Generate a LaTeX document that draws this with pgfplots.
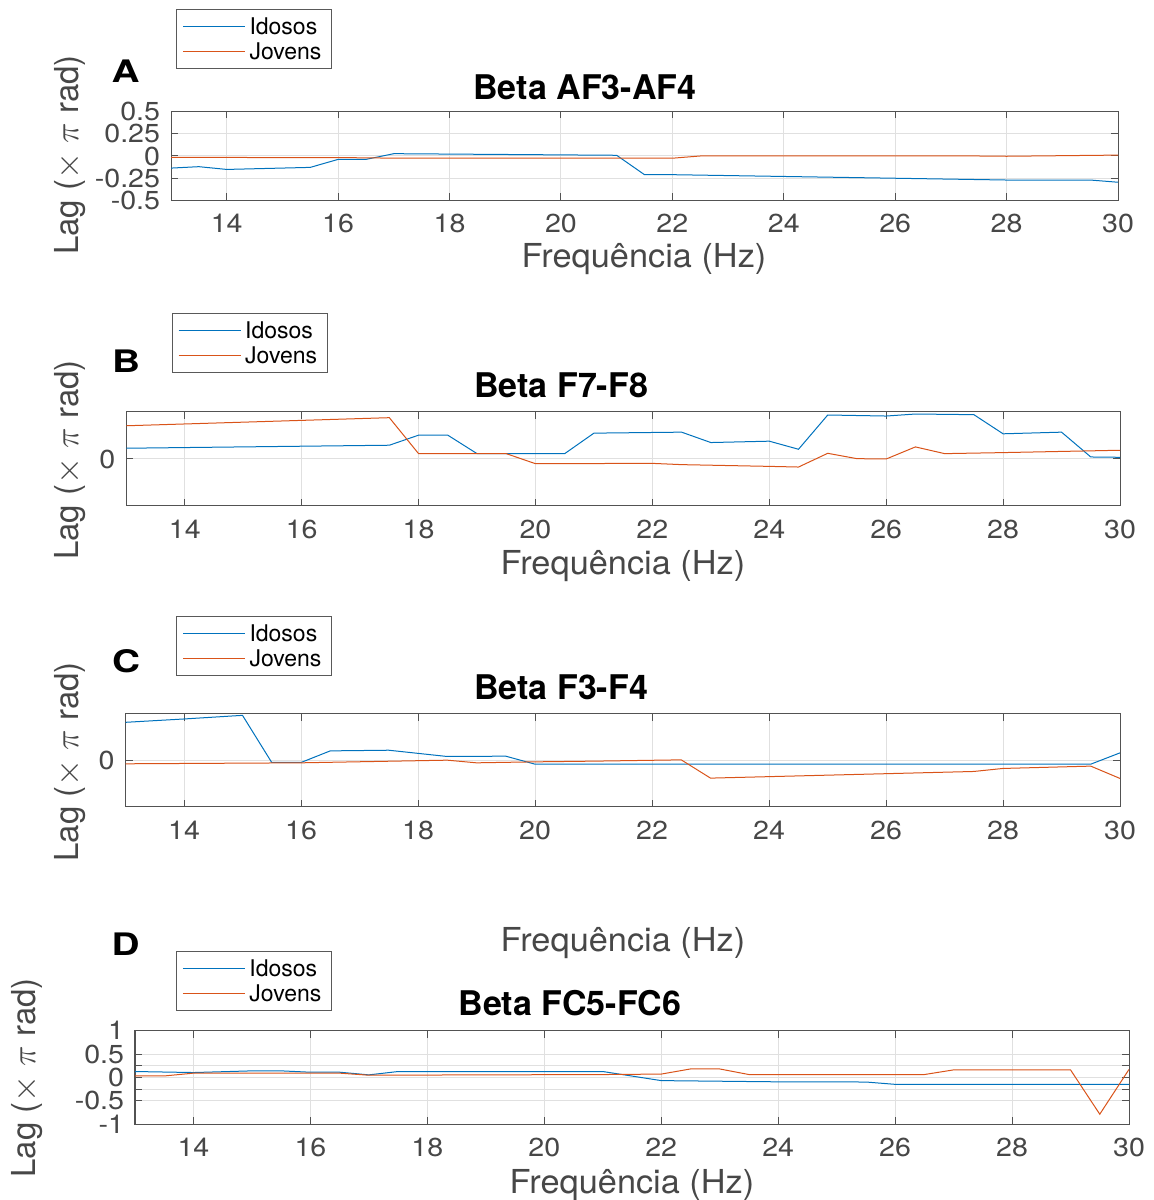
\documentclass[border=0pt]{standalone}
\usepackage{pgfplots}
\pgfplotsset{compat=1.18}
\usepackage{fontspec}
\setmainfont{TeX Gyre Heros}
\definecolor{mblue}{rgb}{0,0.447,0.741}
\definecolor{morange}{rgb}{0.85,0.325,0.098}
\definecolor{axgray}{gray}{0.32}
\pgfplotsset{
  mystyle/.style={
    scale only axis, anchor=south west,
    xmin=13, xmax=30,
    xtick={14,16,...,30},
    xticklabels={14,16,18,20,22,24,26,28,30},
    grid=major, major grid style={black!12, line width=0.5pt},
    axis line style={axgray, line width=0.5pt},
    tick style={axgray, line width=0.5pt},
    tick align=inside, major tick length=3.5pt,
    xticklabel style={font=\fontsize{13}{13}\selectfont, text=black!72, yshift=-3.5pt, xscale=1.1},
    yticklabel style={font=\fontsize{13}{13}\selectfont, text=black!72, xshift=-1.6pt, xscale=1.1},
    label style={font=\fontsize{16.5}{17}\selectfont, text=black!72},
    xlabel style={xscale=1.04, yshift=-1.5pt},
    title style={font=\fontsize{17}{17}\selectfont\bfseries, text=black, anchor=center, yshift=-6pt},
    legend style={font=\fontsize{11.5}{12}\selectfont, draw=black!65, line width=0.5pt,
      anchor=north west, inner xsep=3pt, inner ysep=2.5pt, row sep=0.5pt,
      nodes={text height=9.5pt, text depth=1.5pt, inner ysep=0.5pt, inner xsep=2pt}},
    legend cell align=left,
    legend image code/.code={\draw[#1] (0pt,0pt) -- (31pt,0pt);},
    every axis plot/.append style={line width=0.5pt, no marks},
  }
}
\begin{document}
\begin{tikzpicture}
\useasboundingbox (0,0) rectangle (576.5pt,600pt);

% Panel A
\begin{axis}[mystyle, at={(85.5pt,499.75pt)}, width=473.5pt, height=44.5pt,
  ymin=-0.5, ymax=0.5, ytick={-0.5,-0.25,0,0.25,0.5},
  yticklabels={-0.5,-0.25,0,0.25,0.5},
  title={Beta AF3-AF4}, title style={at={(axis description cs:0.437,1.275)}},
  xlabel={Frequência (Hz)}, xlabel style={at={(axis description cs:0.4995,-0.6236)}, anchor=center},
  ylabel={Lag ($\times$ $\pi$ rad)}, ylabel style={at={(axis description cs:-0.1067,0.511)}, anchor=center},
  legend style={at={(axis description cs:0.0053,2.152)}}]
\addplot[mblue] coordinates {(13,-0.136) (13.5,-0.12) (14,-0.151) (15.5,-0.128) (16,-0.038) (16.5,-0.038) (17,0.026) (21,0.008) (21.5,-0.21) (22,-0.21) (24,-0.23) (26,-0.25) (28,-0.27) (29.5,-0.27) (30,-0.295)};
\addlegendentry{Idosos}
\addplot[morange] coordinates {(13,-0.015) (16.5,-0.02) (17,-0.025) (22,-0.025) (22.5,0.0) (27.5,0.0) (28,-0.003) (30,0.01)};
\addlegendentry{Jovens}
\end{axis}

% Panel B
\begin{axis}[mystyle, at={(63.15pt,347pt)}, width=496.85pt, height=47pt,
  ymin=-1, ymax=1, ytick={0}, yticklabels={0},
  title={Beta F7-F8}, title style={at={(axis description cs:0.4375,1.287)}},
  xlabel={Frequência (Hz)}, xlabel style={at={(axis description cs:0.4998,-0.606)}, anchor=center},
  ylabel={Lag ($\times$ $\pi$ rad)}, ylabel style={at={(axis description cs:-0.0567,0.489)}, anchor=center},
  legend style={at={(axis description cs:0.0457,2.05)}}]
\addplot[mblue] coordinates {(13,0.229) (17.5,0.293) (18,0.507) (18.5,0.507) (19,0.114) (20.5,0.114) (21,0.55) (22,0.564) (22.5,0.571) (23,0.35) (24,0.379) (24.5,0.207) (25,0.936) (26,0.914) (26.5,0.957) (27.5,0.943) (28,0.536) (29,0.571) (29.5,0.043) (30,0.036)};
\addlegendentry{Idosos}
\addplot[morange] coordinates {(13,0.707) (17.5,0.879) (18,0.114) (19.5,0.114) (20,-0.1) (22,-0.093) (22.5,-0.12) (24,-0.157) (24.5,-0.171) (25,0.121) (25.5,0.007) (26,0) (26.5,0.257) (27,0.114) (28,0.136) (30,0.186)};
\addlegendentry{Jovens}
\end{axis}

% Panel C
\begin{axis}[mystyle, at={(62.75pt,196.5pt)}, width=497.25pt, height=46.5pt,
  ymin=-1, ymax=1, ytick={0}, yticklabels={0},
  title={Beta F3-F4}, title style={at={(axis description cs:0.438,1.29)}},
  xlabel={Frequência (Hz)}, xlabel style={at={(axis description cs:0.5002,-1.43)}, anchor=center},
  ylabel={Lag ($\times$ $\pi$ rad)}, ylabel style={at={(axis description cs:-0.0558,0.484)}, anchor=center},
  legend style={at={(axis description cs:0.0508,2.054)}}]
\addplot[mblue] coordinates {(13,0.821) (14,0.893) (15,0.971) (15.5,-0.043) (16,-0.043) (16.5,0.207) (17.5,0.221) (18.5,0.086) (19.5,0.093) (20,-0.079) (29.5,-0.079) (30,0.164)};
\addlegendentry{Idosos}
\addplot[morange] coordinates {(13,-0.071) (16,-0.05) (18.5,0.007) (19,-0.05) (20,-0.029) (21,-0.014) (22.5,0.014) (23,-0.379) (27.5,-0.236) (28,-0.171) (29.5,-0.121) (30,-0.386)};
\addlegendentry{Jovens}
\end{axis}

% Panel D
\begin{axis}[mystyle, at={(67.5pt,38pt)}, width=497pt, height=46.65pt,
  ymin=-1, ymax=1, ytick={-1,-0.5,0,0.5,1}, yticklabels={-1,-0.5,0,0.5,1},
  extra y ticks={-0.25,0.25}, extra y tick labels={}, extra y tick style={grid=major},
  title={Beta FC5-FC6}, title style={at={(axis description cs:0.4376,1.297)}},
  xlabel={Frequência (Hz)}, xlabel style={at={(axis description cs:0.5,-0.6217)}, anchor=center},
  ylabel={Lag ($\times$ $\pi$ rad)}, ylabel style={at={(axis description cs:-0.1087,0.493)}, anchor=center},
  legend style={at={(axis description cs:0.0412,1.857)}}]
\addplot[mblue] coordinates {(13,0.125) (14,0.103) (15,0.139) (15.5,0.139) (16,0.11) (16.5,0.11) (17,0.053) (17.5,0.125) (21,0.125) (22,-0.07) (24,-0.096) (25.5,-0.1) (26,-0.15) (30,-0.15)};
\addlegendentry{Idosos}
\addplot[morange] coordinates {(13,0.03) (13.5,0.03) (14,0.09) (16.5,0.09) (17,0.046) (21,0.06) (22,0.07) (22.5,0.18) (23,0.18) (23.5,0.06) (26.5,0.06) (27,0.16) (29,0.16) (29.5,-0.79) (30,0.17)};
\addlegendentry{Jovens}
\end{axis}

\node[font=\fontsize{15.5}{15.5}\selectfont\bfseries, xscale=1.25] at (62.75pt,564.15pt) {A};
\node[font=\fontsize{15.5}{15.5}\selectfont\bfseries, xscale=1.25] at (63pt,419.5pt) {B};
\node[font=\fontsize{15.5}{15.5}\selectfont\bfseries, xscale=1.25] at (63pt,269.5pt) {C};
\node[font=\fontsize{15.5}{15.5}\selectfont\bfseries, xscale=1.25] at (62.85pt,128pt) {D};
\end{tikzpicture}
\end{document}
